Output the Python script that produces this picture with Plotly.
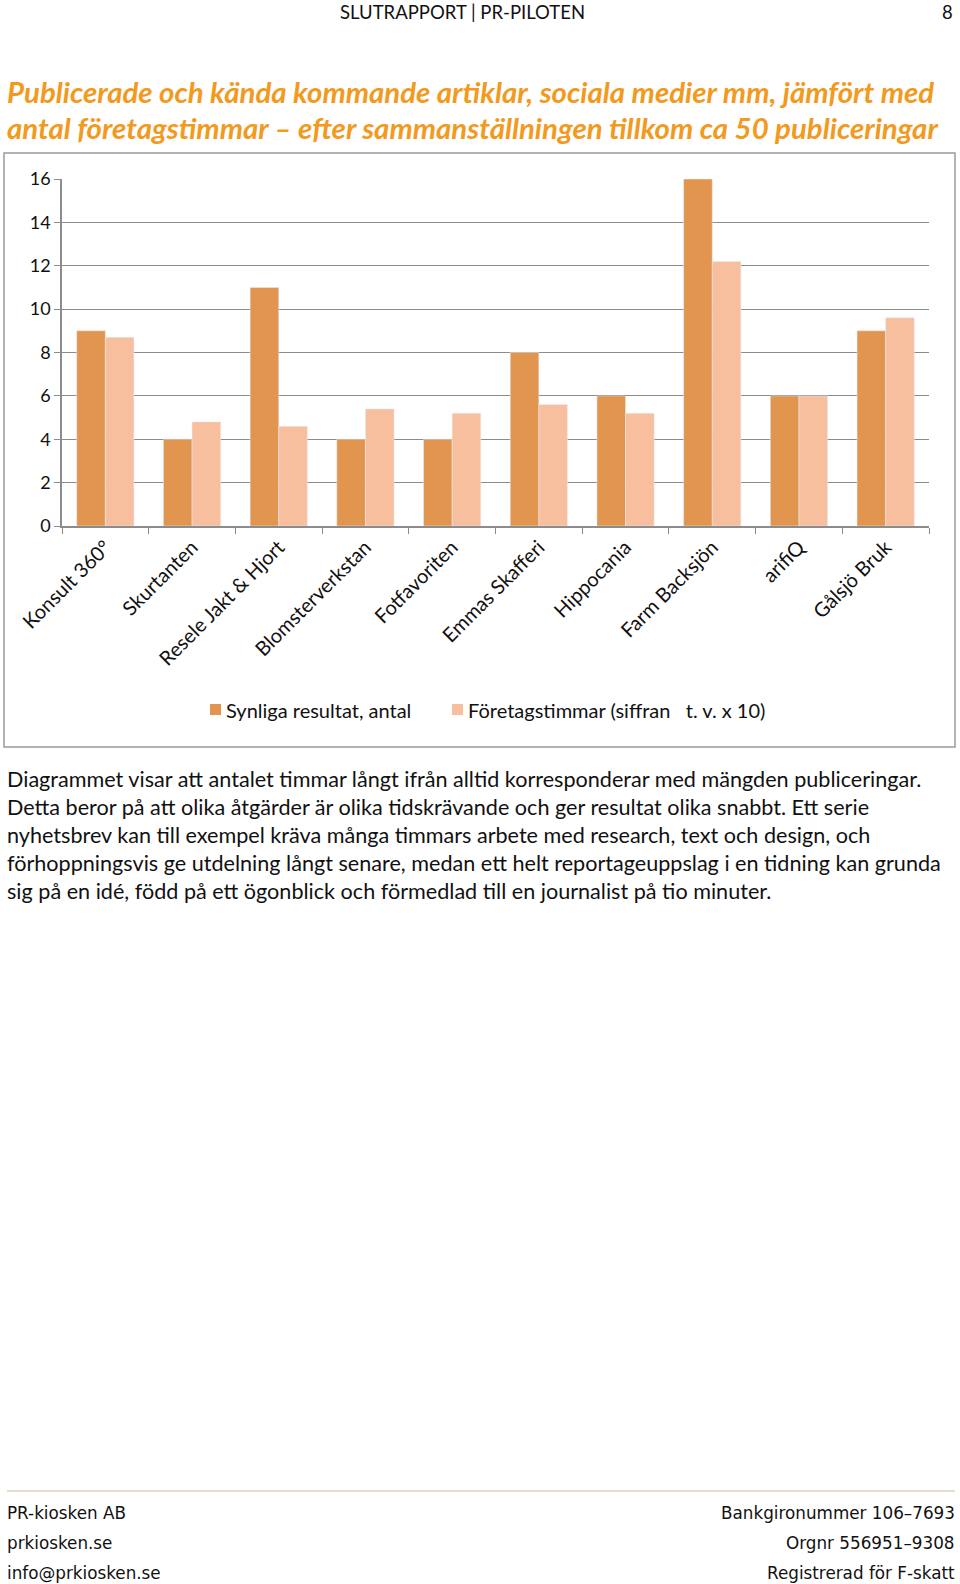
import plotly.graph_objects as go

W, H = 960, 1584
# plot area in pixels
L, R, T, B = 62, 929, 179, 526

companies = ["Konsult 360°", "Skurtanten", "Resele Jakt & Hjort", "Blomsterverkstan",
             "Fotfavoriten", "Emmas Skafferi", "Hippocania", "Farm Backsjön", "arifiQ", "Gålsjö Bruk"]
synliga = [9, 4, 11, 4, 4, 8, 6, 16, 6, 9]
timmar = [8.7, 4.8, 4.6, 5.4, 5.2, 5.6, 5.2, 12.2, 6, 9.6]

series_names = ["Synliga resultat, antal", "Företagstimmar (siffran   t. v. x 10)"]
series_colors = ["#E1954F", "#F8BF9F"]

title_lines = ["Publicerade och kända kommande artiklar, sociala medier mm, jämfört med",
               "antal företagstimmar – efter sammanställningen tillkom ca 50 publiceringar"]
body_lines = [
    "Diagrammet visar att antalet timmar långt ifrån alltid korresponderar med mängden publiceringar.",
    "Detta beror på att olika åtgärder är olika tidskrävande och ger resultat olika snabbt. Ett serie",
    "nyhetsbrev kan till exempel kräva många timmars arbete med research, text och design, och",
    "förhoppningsvis ge utdelning långt senare, medan ett helt reportageuppslag i en tidning kan grunda",
    "sig på en idé, född på ett ögonblick och förmedlad till en journalist på tio minuter.",
]
footer_left = ["PR-kiosken AB", "prkiosken.se", "info@prkiosken.se"]
footer_right = ["Bankgironummer 106–7693", "Orgnr 556951–9308", "Registrerad för F-skatt"]


def px(x):
    return (x - L) / (R - L)


def py(y):
    return (B - y) / (B - T)


fig = go.Figure()
fig.add_bar(x=companies, y=synliga, name=series_names[0], marker_color=series_colors[0])
fig.add_bar(x=companies, y=timmar, name=series_names[1], marker_color=series_colors[1])

fig.update_layout(
    width=W, height=H,
    margin=dict(l=L, r=W - R, t=T, b=H - B, autoexpand=False),
    paper_bgcolor="white", plot_bgcolor="white",
    barmode="group", bargap=0.34, bargroupgap=0,
    font=dict(family="Lato", color="#111111"),
    showlegend=False,
)
fig.update_xaxes(showline=True, linecolor="#8c8c8c", linewidth=1.5,
                 ticks="outside", tickson="boundaries", ticklen=6, tickcolor="#8c8c8c",
                 tickangle=-45, tickfont=dict(size=20, family="Lato"), showgrid=False)
fig.update_yaxes(range=[0, 16], dtick=2, showline=True, linecolor="#8c8c8c", linewidth=1.5,
                 ticks="outside", ticklen=6, tickcolor="#8c8c8c",
                 gridcolor="#8c8c8c", gridwidth=1.2, zeroline=False,
                 tickfont=dict(size=18, family="Lato"))

# chart frame
fig.add_shape(type="rect", xref="paper", yref="paper", x0=px(4), x1=px(955), y0=py(153), y1=py(747),
              line=dict(color="#9a9a9a", width=1.5), layer="below")
# footer rule
fig.add_shape(type="line", xref="paper", yref="paper", x0=px(7), x1=px(955), y0=py(1491), y1=py(1491),
              line=dict(color="#cbbd9c", width=1.2))


def text(s, x, y, size, family, color="#111111", anchor="left", bold=False, italic=False):
    if bold:
        s = "<b>" + s + "</b>"
    if italic:
        s = "<i>" + s + "</i>"
    fig.add_annotation(text=s, xref="paper", yref="paper", x=px(x), y=py(y),
                       xanchor=anchor, yanchor="middle", showarrow=False,
                       font=dict(size=size, family=family, color=color))


# legend drawn by hand so the swatch sits close to its label
for name, color, x0 in zip(series_names, series_colors, [210, 452]):
    fig.add_shape(type="rect", xref="paper", yref="paper", x0=px(x0), x1=px(x0 + 11),
                  y0=py(704), y1=py(715), line_width=0, fillcolor=color)
    text(name, x0 + 14, 710, 20, "Lato")

text("SLUTRAPPORT | PR-PILOTEN", 462, 12, 18.5, "Lato", anchor="center")
text("8", 955, 12, 18.5, "Lato", anchor="right")
for i, line in enumerate(title_lines):
    text(line, 5, 91 + 36 * i, 29.4, "Lato", color="#F29A1E", bold=True, italic=True)
for i, line in enumerate(body_lines):
    text(line, 5, 779 + 28 * i, 21.6, "Lato")
for i, (a, b) in enumerate(zip(footer_left, footer_right)):
    text(a, 5, 1513 + 30 * i, 16.8, "DejaVu Sans")
    text(b, 957, 1513 + 30 * i, 16.8, "DejaVu Sans", anchor="right")

fig.write_html("out.html", config={"displayModeBar": False},
               post_script="document.body.style.margin='0';")
